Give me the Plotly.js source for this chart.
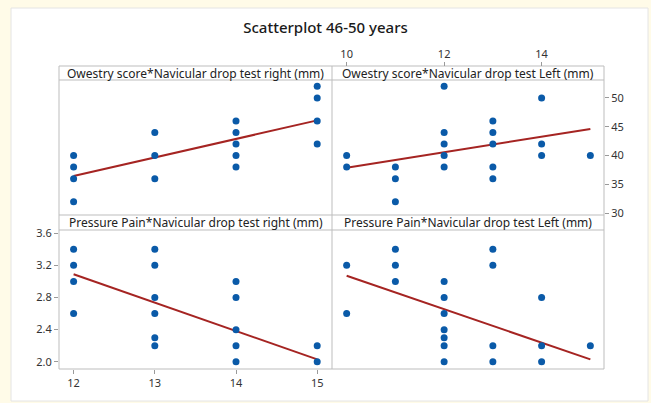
<!DOCTYPE html>
<html>
<head>
<meta charset="utf-8">
<script src="https://cdn.plot.ly/plotly-3.0.1.min.js"></script>
<style>html,body{margin:0;padding:0;background:#fffbe8;}#chart{width:651px;height:403px;}</style>
</head>
<body>
<div id="chart"></div>
<script>
// ---- Data ----
const ndtRightOw = [12,12,12,12,13,13,13,14,14,14,14,14,15,15,15,15];
const owestryR   = [40,38,36,32,44,40,36,46,44,42,40,38,52,50,46,42];

const ndtLeftOw  = [10,10,11,11,11,12,12,12,12,12,13,13,13,13,13,14,14,14,15];
const owestryL   = [40,38,38,36,32,52,44,42,40,38,46,44,42,38,36,50,42,40,40];

const ndtRightPa = [12,12,12,12,13,13,13,13,13,13,14,14,14,14,14,15,15];
const painR      = [3.4,3.2,3.0,2.6,3.4,3.2,2.8,2.6,2.3,2.2,3.0,2.8,2.4,2.2,2.0,2.2,2.0];

const ndtLeftPa  = [10,10,11,11,11,12,12,12,12,12,12,12,13,13,13,13,14,14,14,15];
const painL      = [3.2,2.6,3.4,3.2,3.0,3.0,2.8,2.6,2.4,2.3,2.2,2.0,3.4,3.2,2.2,2.0,2.8,2.2,2.0,2.2];

// fitted regression lines (end points)
const fitRightOwX = [12,15], fitRightOwY = [36.45,46.1];
const fitLeftOwX  = [10,15], fitLeftOwY  = [37.9,44.6];
const fitRightPaX = [12,15], fitRightPaY = [3.09,2.03];
const fitLeftPaX  = [10,15], fitLeftPaY  = [3.07,2.03];

const stripLabels = [
  "Owestry score*Navicular drop test right (mm)",
  "Owestry score*Navicular drop test Left (mm)",
  "Pressure Pain*Navicular drop test right (mm)",
  "Pressure Pain*Navicular drop test Left (mm)"
];
const chartTitle = "Scatterplot 46-50 years";

// ---- Layout helpers ----
const W = 651, H = 403;
const X = p => p / W;
const Y = p => 1 - p / H;

const L0 = 59, L1 = 332, R1 = 604;
const T0 = 66, T1 = 80, M0 = 215, M1 = 230, B1 = 369;

const blue = "#0a5aa8", red = "#a52422";
const FONT = "Noto Sans, Open Sans, sans-serif";

function pts(x, y, xa, ya) {
  return {x, y, xaxis: xa, yaxis: ya, type: "scatter", mode: "markers",
          marker: {color: blue, size: 7}, hoverinfo: "skip", showlegend: false};
}
function fit(x, y, xa, ya) {
  return {x, y, xaxis: xa, yaxis: ya, type: "scatter", mode: "lines",
          line: {color: red, width: 2}, hoverinfo: "skip", showlegend: false};
}

const data = [
  fit(fitRightOwX, fitRightOwY, "x", "y"),
  pts(ndtRightOw, owestryR, "x", "y"),
  fit(fitLeftOwX, fitLeftOwY, "x2", "y2"),
  pts(ndtLeftOw, owestryL, "x2", "y2"),
  fit(fitRightPaX, fitRightPaY, "x3", "y3"),
  pts(ndtRightPa, painR, "x3", "y3"),
  fit(fitLeftPaX, fitLeftPaY, "x4", "y4"),
  pts(ndtLeftPa, painL, "x4", "y4")
];

const tickFont = {family: FONT, size: 11, color: "#333"};
const base = {showgrid: false, zeroline: false, showline: false, fixedrange: true};
const hidden = Object.assign({}, base, {showticklabels: false, ticks: ""});
const shown = Object.assign({}, base, {ticks: "outside", ticklen: 4, tickcolor: "#9a9a9a", tickwidth: 1, tickfont: tickFont});

const leftX = [11.82, 15.17], rightX = [9.72, 15.28];
const owY = [29.7, 53.1], paY = [1.91, 3.64];

const dTopY = [Y(M0), Y(T1)], dBotY = [Y(B1), Y(M1)];
const dLeftX = [X(L0), X(L1 - 1)], dRightX = [X(L1 + 1), X(R1)];

const layout = {
  width: W, height: H,
  margin: {l: 0, r: 0, t: 0, b: 0},
  paper_bgcolor: "#fffbe8",
  plot_bgcolor: "rgba(0,0,0,0)",
  showlegend: false,
  font: {family: FONT, color: "#222"},
  title: {text: chartTitle, x: 0.5, xref: "paper", xanchor: "center",
          y: Y(28), yref: "paper", yanchor: "middle",
          font: {family: FONT, size: 15, color: "#1a1a1a", weight: 500}},
  xaxis:  Object.assign({}, hidden, {domain: dLeftX, range: leftX, anchor: "y"}),
  yaxis:  Object.assign({}, hidden, {domain: dTopY, range: owY, anchor: "x"}),
  xaxis2: Object.assign({}, shown, {domain: dRightX, range: rightX, anchor: "free", position: Y(T0), side: "top", tickvals: [10,12,14], ticktext: ["10","12","14"]}),
  yaxis2: Object.assign({}, shown, {domain: dTopY, range: owY, anchor: "x2", side: "right", tickvals: [30,35,40,45,50], ticktext: ["30","35","40","45","50"]}),
  xaxis3: Object.assign({}, shown, {domain: dLeftX, range: leftX, anchor: "y3", side: "bottom", tickvals: [12,13,14,15], ticktext: ["12","13","14","15"]}),
  yaxis3: Object.assign({}, shown, {domain: dBotY, range: paY, anchor: "x3", side: "left", tickvals: [2.0,2.4,2.8,3.2,3.6], ticktext: ["2.0","2.4","2.8","3.2","3.6"]}),
  xaxis4: Object.assign({}, hidden, {domain: dRightX, range: rightX, anchor: "y4"}),
  yaxis4: Object.assign({}, hidden, {domain: dBotY, range: paY, anchor: "x4"}),
  shapes: [
    {type: "rect", xref: "paper", yref: "paper", x0: X(11), x1: X(648), y0: Y(401), y1: Y(8),
     fillcolor: "#ffffff", line: {color: "#e4e4e4", width: 1}, layer: "below"},
    {type: "rect", xref: "paper", yref: "paper", x0: X(L0), x1: X(R1), y0: Y(B1), y1: Y(T0),
     fillcolor: "rgba(0,0,0,0)", line: {color: "#bdbdbd", width: 1}, layer: "below"},
    {type: "line", xref: "paper", yref: "paper", x0: X(L1), x1: X(L1), y0: Y(B1), y1: Y(T0),
     line: {color: "#bdbdbd", width: 1}, layer: "below"},
    {type: "line", xref: "paper", yref: "paper", x0: X(L0), x1: X(R1), y0: Y(T1), y1: Y(T1),
     line: {color: "#bdbdbd", width: 1}, layer: "below"},
    {type: "line", xref: "paper", yref: "paper", x0: X(L0), x1: X(R1), y0: Y(M0), y1: Y(M0),
     line: {color: "#bdbdbd", width: 1}, layer: "below"},
    {type: "line", xref: "paper", yref: "paper", x0: X(L0), x1: X(R1), y0: Y(M1), y1: Y(M1),
     line: {color: "#bdbdbd", width: 1}, layer: "below"}
  ],
  annotations: [
    {text: stripLabels[0], x: (X(L0) + X(L1)) / 2, y: Y((T0 + T1) / 2)},
    {text: stripLabels[1], x: (X(L1) + X(R1)) / 2, y: Y((T0 + T1) / 2)},
    {text: stripLabels[2], x: (X(L0) + X(L1)) / 2, y: Y((M0 + M1) / 2)},
    {text: stripLabels[3], x: (X(L1) + X(R1)) / 2, y: Y((M0 + M1) / 2)}
  ].map(a => Object.assign(a, {xref: "paper", yref: "paper", xanchor: "center", yanchor: "middle",
        showarrow: false, font: {family: FONT, size: 12, color: "#222"}}))
};

Plotly.newPlot("chart", data, layout, {displayModeBar: false, staticPlot: true});
</script>
</body>
</html>
